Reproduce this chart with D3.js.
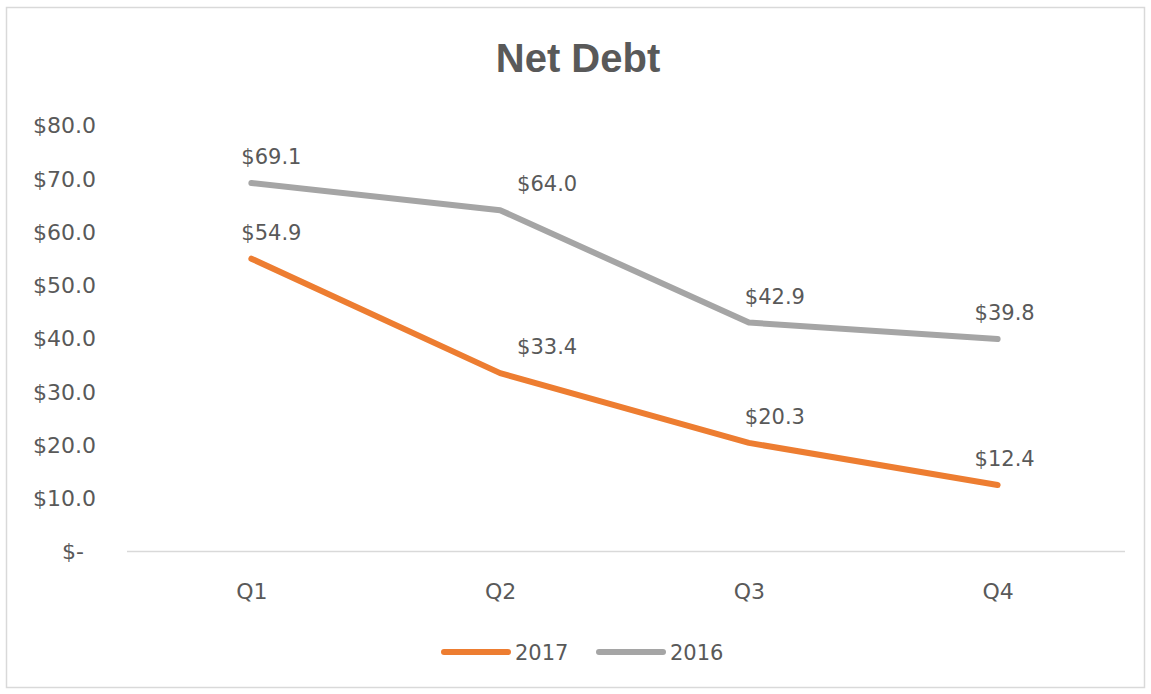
<!DOCTYPE html>
<html>
<head>
<meta charset="utf-8">
<script src="https://cdn.jsdelivr.net/npm/d3@7"></script>
<style>
  html, body { margin: 0; padding: 0; background: #ffffff; }
  svg { display: block; }
</style>
</head>
<body>
<svg id="chart" width="1151" height="694"></svg>
<script>
// Quarterly net debt, in millions of dollars
const quarters = ["Q1", "Q2", "Q3", "Q4"];
const values2017 = [54.9, 33.4, 20.3, 12.4];
const values2016 = [69.1, 64.0, 42.9, 39.8];
const yTicks = [0, 10, 20, 30, 40, 50, 60, 70, 80];
const seriesNames = ["2017", "2016"];

// Horizontal nudge of the value labels for each quarter
const labelShift = [20, 47, 26, 7];

const W = 1151, H = 694;
const svg = d3.select("#chart");
const FONT = "'DejaVu Sans', sans-serif";
const TEXT = "#595959";

// Outer frame
svg.append("rect")
  .attr("x", 6.5).attr("y", 7.5)
  .attr("width", 1138).attr("height", 680)
  .attr("fill", "#ffffff")
  .attr("stroke", "#d9d9d9").attr("stroke-width", 1.5);

// Title
svg.append("text")
  .attr("x", 578).attr("y", 72)
  .attr("text-anchor", "middle")
  .attr("font-family", "'Liberation Sans', Arial, sans-serif")
  .attr("font-weight", "bold")
  .attr("font-size", 40)
  .attr("fill", TEXT)
  .text("Net Debt");

// Scales
const x = d3.scalePoint().domain(quarters).range([127, 1122]).padding(0.5);
const y = d3.scaleLinear().domain([0, 80]).range([551, 125]);

// Y axis (labels only)
const yAxis = d3.axisLeft(y)
  .tickValues(yTicks)
  .tickSize(0)
  .tickPadding(0)
  .tickFormat(d => d === 0 ? "$-" : "$" + d3.format(".1f")(d));

const yG = svg.append("g")
  .attr("transform", "translate(96,0)")
  .call(yAxis);
yG.select(".domain").remove();
yG.selectAll("text")
  .attr("font-family", FONT)
  .attr("font-size", 22)
  .attr("fill", TEXT)
  .attr("dy", "0.36em")
  .attr("dx", d => d === 0 ? -12 : 0);

// X axis baseline and category labels
const xAxis = d3.axisBottom(x).tickSize(0).tickPadding(0);
const xG = svg.append("g")
  .attr("transform", "translate(0,551.5)")
  .call(xAxis);
xG.select(".domain").remove();
xG.append("line")
  .attr("x1", 127).attr("x2", 1125)
  .attr("y1", 0).attr("y2", 0)
  .attr("stroke", "#d9d9d9").attr("stroke-width", 1.5);
xG.selectAll(".tick text")
  .attr("font-family", FONT)
  .attr("font-size", 22)
  .attr("fill", TEXT)
  .attr("y", 40)
  .attr("dy", "0.36em");

// Lines
const series = [
  { name: seriesNames[0], values: values2017, color: "#ED7D31" },
  { name: seriesNames[1], values: values2016, color: "#A5A5A5" }
];

const line = d3.line()
  .x((d, i) => x(quarters[i]))
  .y(d => y(d));

// Draw 2016 first so 2017 sits on top
[series[1], series[0]].forEach(s => {
  svg.append("path")
    .datum(s.values)
    .attr("d", line)
    .attr("fill", "none")
    .attr("stroke", s.color)
    .attr("stroke-width", 6)
    .attr("stroke-linejoin", "round")
    .attr("stroke-linecap", "round");
});

// Value labels
series.forEach(s => {
  svg.append("g").selectAll("text")
    .data(s.values)
    .join("text")
    .attr("x", (d, i) => x(quarters[i]) + labelShift[i])
    .attr("y", d => y(d) - 19)
    .attr("text-anchor", "middle")
    .attr("font-family", FONT)
    .attr("font-size", 21)
    .attr("fill", TEXT)
    .text(d => "$" + d3.format(".1f")(d));
});

// Legend
const legend = svg.append("g").attr("transform", "translate(0,652)");
const legendItems = [
  { s: series[0], x0: 442 },
  { s: series[1], x0: 597 }
];
legendItems.forEach(item => {
  legend.append("line")
    .attr("x1", item.x0 + 2).attr("x2", item.x0 + 66)
    .attr("y1", 0).attr("y2", 0)
    .attr("stroke", item.s.color)
    .attr("stroke-width", 6)
    .attr("stroke-linecap", "round");
  legend.append("text")
    .attr("x", item.x0 + 73)
    .attr("y", 0)
    .attr("dy", "0.36em")
    .attr("font-family", FONT)
    .attr("font-size", 21)
    .attr("fill", TEXT)
    .text(item.s.name);
});
</script>
</body>
</html>
